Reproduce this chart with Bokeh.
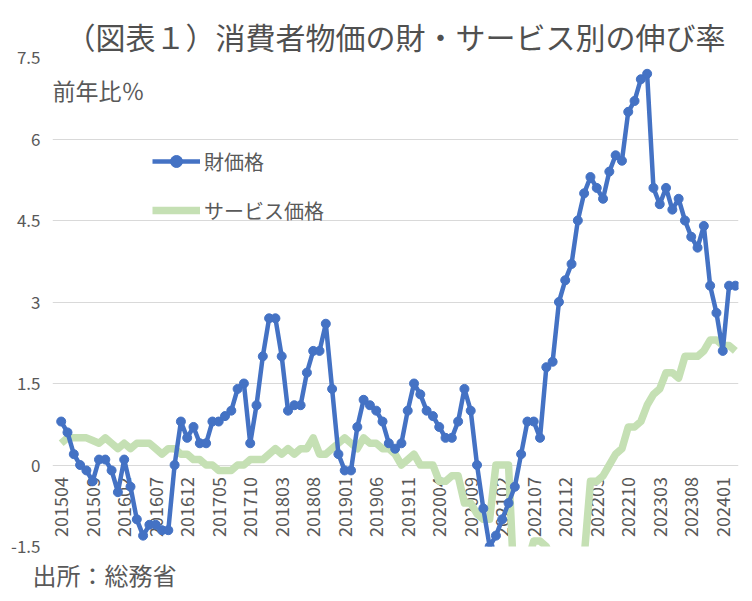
import math
from bokeh.plotting import figure
from bokeh.models import Range1d, FixedTicker, Label, Legend, LegendItem, Title
from bokeh.core.properties import value
from bokeh.embed import file_html
from bokeh.resources import INLINE

# ---- data ----
months = [f"{y}{m:02d}" for y in range(2015, 2025) for m in range(1, 13)]
months = months[months.index("201504"):months.index("202403") + 1]

goods = [0.8, 0.6, 0.2, 0.0, -0.1, -0.3, 0.1, 0.1, -0.1, -0.5, 0.1, -0.4,
         -1.0, -1.3, -1.1, -1.1, -1.2, -1.2, 0.0, 0.8, 0.5, 0.7, 0.4, 0.4,
         0.8, 0.8, 0.9, 1.0, 1.4, 1.5, 0.4, 1.1, 2.0, 2.7, 2.7, 2.0,
         1.0, 1.1, 1.1, 1.7, 2.1, 2.1, 2.6, 1.4, 0.2, -0.1, -0.1, 0.7,
         1.2, 1.1, 1.0, 0.8, 0.4, 0.3, 0.4, 1.0, 1.5, 1.3, 1.0, 0.9,
         0.7, 0.5, 0.5, 0.8, 1.4, 1.0, 0.0, -0.8, -1.5, -1.3, -1.0, -0.7,
         -0.4, 0.2, 0.8, 0.8, 0.5, 1.8, 1.9, 3.0, 3.4, 3.7, 4.5, 5.0,
         5.3, 5.1, 4.9, 5.4, 5.7, 5.6, 6.5, 6.7, 7.1, 7.2, 5.1, 4.8,
         5.1, 4.7, 4.9, 4.5, 4.2, 4.0, 4.4, 3.3, 2.8, 2.1, 3.3, 3.3]

services = [0.4, 0.5, 0.5, 0.5, 0.5, 0.45, 0.4, 0.5, 0.4, 0.3, 0.4, 0.3,
            0.4, 0.4, 0.4, 0.3, 0.2, 0.3, 0.3, 0.2, 0.2, 0.1, 0.1, 0.0,
            0.0, -0.1, -0.1, -0.1, 0.0, 0.0, 0.1, 0.1, 0.1, 0.2, 0.3, 0.2,
            0.3, 0.2, 0.3, 0.3, 0.5, 0.2, 0.2, 0.3, 0.4, 0.5, 0.4, 0.3,
            0.5, 0.4, 0.4, 0.3, 0.3, 0.2, 0.0, 0.1, 0.2, 0.0, 0.0, 0.0,
            -0.3, -0.3, -0.2, -0.2, -0.7, -0.7, -0.9, -1.0, -1.0, 0.0, 0.0, 0.0,
            -2.5, -2.2, -1.8, -1.4, -1.4, -1.5, -1.8, -1.9, -1.9, -1.9, -1.8, -1.7,
            -0.3, -0.3, -0.2, 0.0, 0.2, 0.3, 0.7, 0.7, 0.8, 1.1, 1.3, 1.4,
            1.7, 1.7, 1.6, 2.0, 2.0, 2.0, 2.1, 2.3, 2.3, 2.2, 2.2, 2.1]

tick_labels = months[::5]
y_ticks = [-1.5, 0, 1.5, 3, 4.5, 6, 7.5]
y_tick_text = ["-1.5", "0", "1.5", "3", "4.5", "6", "7.5"]

title_text = "（図表１）消費者物価の財・サービス別の伸び率"
unit_text = "前年比％"
source_text = "出所：総務省"
series_names = ["財価格", "サービス価格"]

# ---- style ----
FONT = "Noto Sans CJK JP"
GRAY = "#595959"
BLUE = "#4472C4"
GREEN = "#C5E0B4"

xs = list(range(len(months)))

p = figure(width=752, height=601, output_backend="svg", toolbar_location=None,
           x_range=Range1d(-1.38, len(months) - 0.5), y_range=Range1d(-1.5, 7.5),
           min_border_left=52, min_border_right=14, min_border_top=57,
           min_border_bottom=54)
p.outline_line_color = None
p.background_fill_color = "white"
p.xaxis.visible = False
p.xgrid.visible = False

p.title.text = title_text
p.title.align = "center"
p.title.text_font = FONT
p.title.text_font_size = "30px"
p.title.text_font_style = "normal"
p.title.text_color = "#505050"
p.title.standoff = 0

yax = p.yaxis[0]
yax.ticker = FixedTicker(ticks=y_ticks)
yax.major_label_overrides = {t: s for t, s in zip(y_ticks, y_tick_text)}
yax.axis_line_color = None
yax.major_tick_line_color = None
yax.minor_tick_line_color = None
yax.major_tick_out = 0
yax.major_label_standoff = 12
yax.major_label_text_font = FONT
yax.major_label_text_font_size = "17px"
yax.major_label_text_color = GRAY

p.ygrid.ticker = FixedTicker(ticks=y_ticks)
p.ygrid.grid_line_color = "#D9D9D9"
p.ygrid.grid_line_width = 1.2

# category labels at the zero line
lab_x = [months.index(t) for t in tick_labels]
lab_y = [0] * len(tick_labels)
p.text(x=lab_x, y=lab_y, text=tick_labels, angle=math.pi / 2,
       text_align="right", text_baseline="middle", y_offset=12,
       text_font=value(FONT), text_font_size="18px", text_color=GRAY)

g_line = p.line(xs, services, line_color=GREEN, line_width=7.5, line_join="round")
b_line = p.line(xs, goods, line_color=BLUE, line_width=4.5, line_join="round")
b_pts = p.scatter(xs, goods, size=9, marker="circle", fill_color=BLUE, line_color=BLUE)

legend = Legend(items=[LegendItem(label=series_names[0], renderers=[b_line, b_pts]),
                       LegendItem(label=series_names[1], renderers=[g_line])],
                location=(100, 321), orientation="vertical",
                glyph_width=48, glyph_height=30, label_height=30, spacing=19,
                padding=0, margin=0, label_standoff=4,
                label_text_font=FONT, label_text_font_size="20px",
                label_text_color=GRAY, border_line_color=None,
                background_fill_alpha=0)
p.add_layout(legend, "center")

p.add_layout(Label(x=0, y=457, x_units="screen", y_units="screen", text=unit_text,
                   text_align="left", text_baseline="middle",
                   text_font=FONT, text_font_size="23px", text_color=GRAY))

src = Title(text=source_text, align="left", offset=-20, standoff=18,
            vertical_align="middle", text_font=FONT, text_font_size="24px",
            text_font_style="normal", text_color=GRAY)
p.add_layout(src, "below")

open("out.html", "w").write(file_html(p, INLINE))
